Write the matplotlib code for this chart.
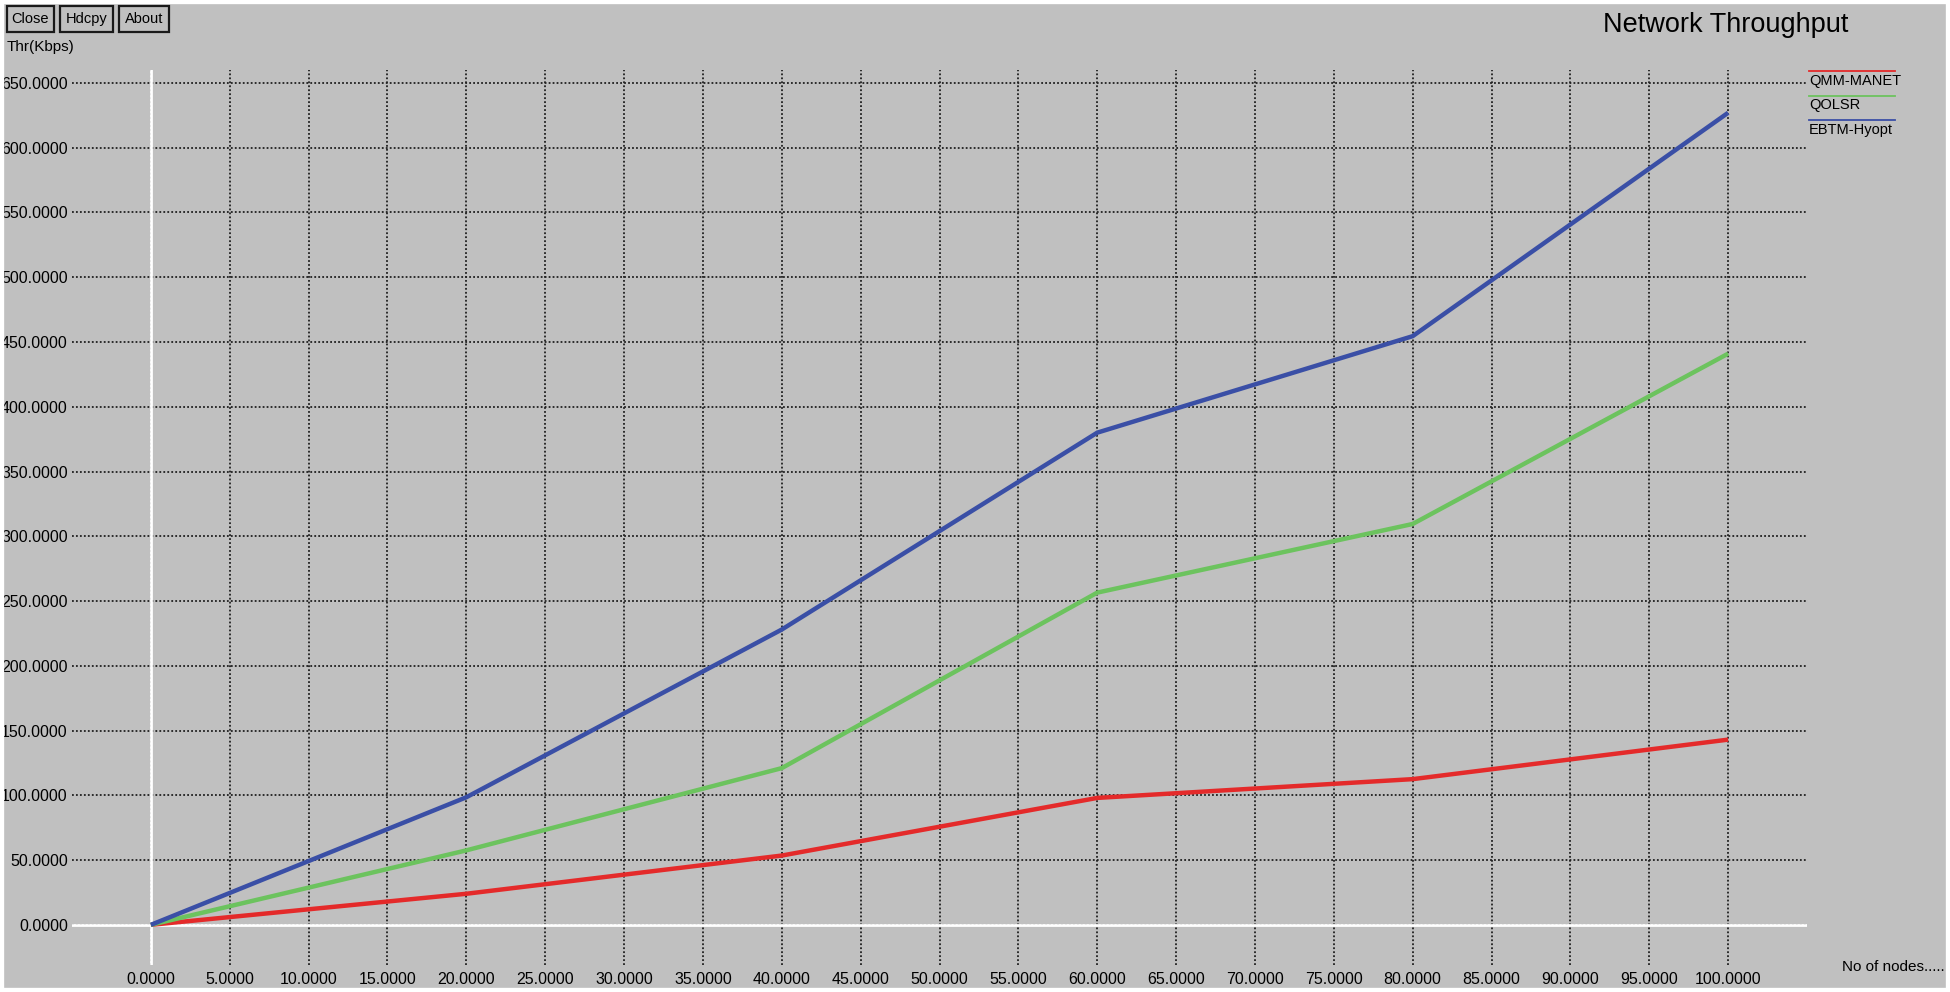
import matplotlib

matplotlib.use("Agg")
import matplotlib.pyplot as plt
from matplotlib.patches import Rectangle

plt.rcParams["font.family"] = ["Liberation Sans", "DejaVu Sans"]

# data
nodes = [0, 20, 40, 60, 80, 100]
qmm_manet = [0, 24, 53.5, 98, 112.5, 143]
qolsr = [0, 57.5, 121, 256.5, 309.5, 441]
ebtm_hyopt = [0, 98.5, 228, 380, 454.5, 627]

series_names = ["QMM-MANET", "QOLSR", "EBTM-Hyopt"]
series_colors = ["#e42a2a", "#6cc35e", "#3a4fa6"]

x_ticks = [i * 5 for i in range(21)]
y_ticks = [i * 50 for i in range(14)]

W, H = 1950, 992
BG = "#c0c0c0"


def fx(px):
    return px / W


def fy(py):
    return 1 - py / H


fig = plt.figure(figsize=(W / 100, H / 100), dpi=100, facecolor=BG)

# axes box matches the extent of the white zero lines
ax = fig.add_axes([fx(72), fy(965), fx(1807 - 72), (965 - 70) / H])
ax.set_facecolor(BG)
for s in ax.spines.values():
    s.set_visible(False)
ax.set_xlim(-5, 105)
ax.set_ylim(-31, 660)

ax.set_xticks(x_ticks)
ax.set_xticklabels([f"{v:.4f}" for v in x_ticks])
ax.set_yticks(y_ticks)
ax.set_yticklabels([f"{v:.4f}" for v in y_ticks])
ax.tick_params(length=0, labelsize=11.5, colors="black")
ax.tick_params(axis="x", pad=5)
ax.tick_params(axis="y", pad=3)

ax.grid(True, color="#202020", linestyle=(0, (1, 1.2)), linewidth=1.3)
ax.set_axisbelow(True)
ax.axhline(0, color="white", linewidth=2, zorder=2)
ax.axvline(0, color="white", linewidth=2, zorder=2)

for ys, name, col in zip([qmm_manet, qolsr, ebtm_hyopt], series_names, series_colors):
    ax.plot(nodes, ys, color=col, linewidth=3.2, zorder=3, solid_capstyle="butt")

# legend drawn xgraph style: coloured bar above each label
for i, (name, col) in enumerate(zip(series_names, series_colors)):
    yline = 71 + i * 24.5
    fig.add_artist(plt.Line2D([fx(1809), fx(1895)], [fy(yline), fy(yline)],
                              color=col, linewidth=1.3, transform=fig.transFigure))
    fig.text(fx(1809), fy(yline + 9.5), name, fontsize=10.5, ha="left", va="center")

fig.text(fx(1848), fy(25), "Network Throughput", fontsize=19.5, ha="right", va="center")
fig.text(fx(7), fy(47), "Thr(Kbps)", fontsize=11, ha="left", va="center")
fig.text(fx(1842), fy(967), "No of nodes.....", fontsize=11, ha="left", va="center")

# the three buttons top-left
for label, x0, x1 in [("Close", 7, 54), ("Hdcpy", 60, 113), ("About", 119, 169)]:
    fig.add_artist(Rectangle((fx(x0), fy(32)), fx(x1 - x0), 26 / H,
                             transform=fig.transFigure, facecolor=BG,
                             edgecolor="#1a1a1a", linewidth=1.6))
    fig.text(fx((x0 + x1) / 2), fy(19), label, fontsize=10.5, ha="center", va="center")

# thin white frame around the screenshot
fig.add_artist(Rectangle((0, 0), 1, 1, transform=fig.transFigure, facecolor="none",
                         edgecolor="white", linewidth=6, zorder=10))

fig.savefig("out.png", dpi=100, facecolor=fig.get_facecolor())
